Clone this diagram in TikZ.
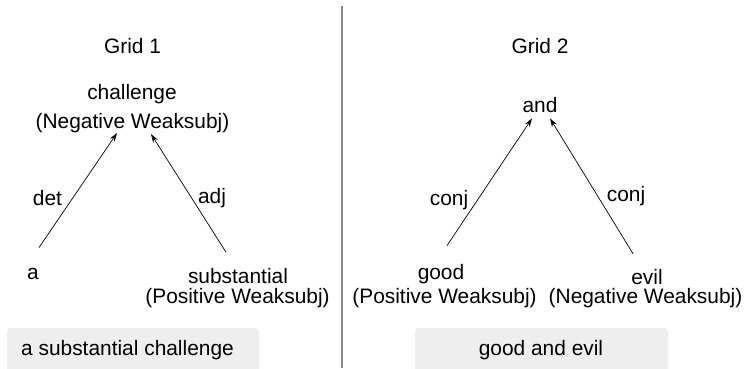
\documentclass[tikz,border=0pt]{standalone}
\usepackage{fontspec}
\setmainfont{Liberation Sans}
\usetikzlibrary{arrows.meta,calc}
\definecolor{boxgray}{HTML}{EEEEEE}
\definecolor{rulegray}{HTML}{888888}
\tikzset{
  lbl/.style={anchor=base, inner sep=0pt, font=\fontsize{20.9}{20.9}\selectfont},
  dep/.style={-{Stealth[length=8.5pt,width=5.5pt]}, line width=0.7pt, black},
  caption/.style={fill=boxgray, rounded corners=4pt, draw=none},
  divider/.style={rulegray, line width=2pt}
}
\begin{document}
\begin{tikzpicture}[x=1pt, y=-1pt]
\clip (0,0) rectangle (749,368);
\fill[white] (0,0) rectangle (749,368);

% vertical divider between the two grids
\coordinate (rtop) at (342,6);
\coordinate (rbot) at (342,368);
\draw[divider] (rtop) -- (rbot);

% ---------- Grid 1 ----------
\node[lbl] (g1) at (132.5,53) {Grid 1};
\node[lbl] (chal) at (132,99.5) {challenge};
\node[lbl] (chaltag) at (132.5,128) {(Negative Weaksubj)};
\node[lbl] (wa) at (33,279) {a};
\node[lbl] (subst) at (238,283.5) {substantial};
\node[lbl] (substtag) at (237.5,303) {(Positive Weaksubj)};
\node[lbl] (det) at (47.5,205.5) {det};
\node[lbl] (adj) at (212,203) {adj};

\draw[dep] ($(wa.north)+(6,-20)$) -- ($(chaltag.south)+(-15.5,0.5)$);
\draw[dep] ($(subst.north)+(-12,-16)$) -- ($(chaltag.south)+(18.5,1.5)$);

\fill[caption] (7,328) rectangle (259,380);
\node[lbl] (cap1) at (127.5,355) {a substantial challenge};

% ---------- Grid 2 ----------
\node[lbl] (g2) at (540,53) {Grid 2};
\node[lbl] (and) at (540,112) {and};
\node[lbl] (good) at (441,279) {good};
\node[lbl] (goodtag) at (444.5,303) {(Positive Weaksubj)};
\node[lbl] (evil) at (647,284) {evil};
\node[lbl] (eviltag) at (645.5,303) {(Negative Weaksubj)};
\node[lbl] (conjl) at (449,205.5) {conj};
\node[lbl] (conjr) at (626,201.5) {conj};

\draw[dep] ($(good.north)+(6,-18)$) -- ($(and.south)+(-8,6)$);
\draw[dep] ($(evil.north)+(-14,-15)$) -- ($(and.south)+(10,6)$);

\fill[caption] (415,328) rectangle (668,380);
\node[lbl] (cap2) at (541,355) {good and evil};
\end{tikzpicture}
\end{document}
